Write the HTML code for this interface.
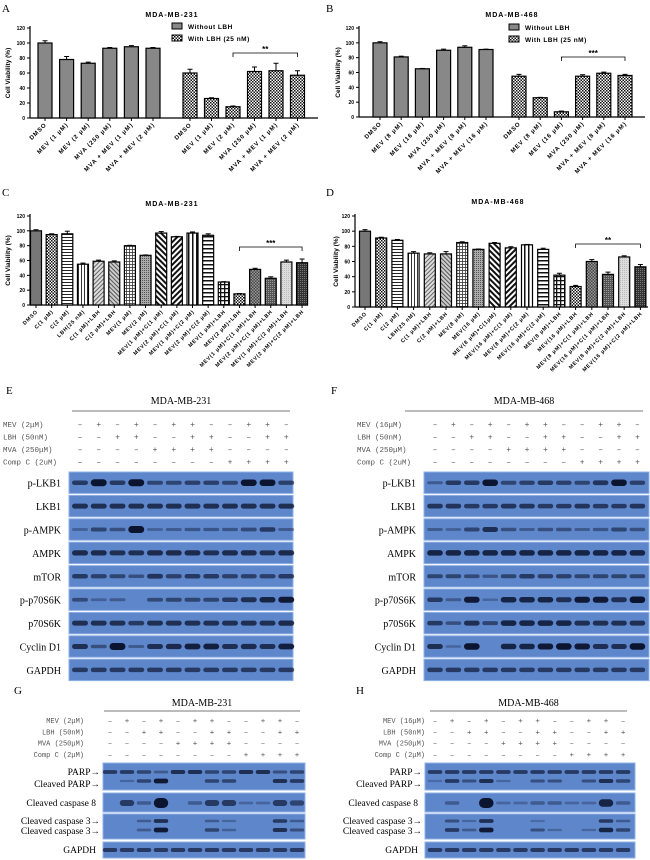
<!DOCTYPE html>
<html><head><meta charset="utf-8"><style>
html,body{margin:0;padding:0;background:#fff;}
svg{display:block;}
.ax{font-family:"Liberation Sans",sans-serif;font-weight:bold;}
.serif{font-family:"Liberation Serif",serif;}
.mono{font-family:"Liberation Mono",monospace;fill:#555;}
</style></head><body>
<svg id="fig" width="650" height="860" viewBox="0 0 650 860" xmlns="http://www.w3.org/2000/svg">
<defs>
<pattern id="p-check" width="3" height="3" patternUnits="userSpaceOnUse"><rect width="3" height="3" fill="#fff"/><rect width="1.5" height="1.5" fill="#111"/><rect x="1.5" y="1.5" width="1.5" height="1.5" fill="#111"/></pattern>
<pattern id="p-hl" width="3" height="3" patternUnits="userSpaceOnUse"><rect width="3" height="3" fill="#fff"/><rect width="3" height="1" fill="#222"/></pattern>
<pattern id="p-vl" width="3" height="3" patternUnits="userSpaceOnUse"><rect width="3" height="3" fill="#fff"/><rect width="1" height="3" fill="#333"/></pattern>
<pattern id="p-d1" width="3" height="3" patternUnits="userSpaceOnUse" patternTransform="rotate(45)"><rect width="3" height="3" fill="#ddd"/><rect width="1" height="3" fill="#666"/></pattern>
<pattern id="p-d2" width="3" height="3" patternUnits="userSpaceOnUse" patternTransform="rotate(-45)"><rect width="3" height="3" fill="#ccc"/><rect width="1" height="3" fill="#555"/></pattern>
<pattern id="p-grid" width="3" height="3" patternUnits="userSpaceOnUse"><rect width="3" height="3" fill="#fff"/><rect width="3" height="0.8" fill="#333"/><rect width="0.8" height="3" fill="#333"/></pattern>
<pattern id="p-dot" width="2" height="2" patternUnits="userSpaceOnUse"><rect width="2" height="2" fill="#aaa"/><rect width="1" height="1" fill="#555"/></pattern>
<pattern id="p-bd1" width="4" height="4" patternUnits="userSpaceOnUse" patternTransform="rotate(45)"><rect width="4" height="4" fill="#fff"/><rect width="2" height="4" fill="#111"/></pattern>
<pattern id="p-bd2" width="4" height="4" patternUnits="userSpaceOnUse" patternTransform="rotate(-45)"><rect width="4" height="4" fill="#fff"/><rect width="2" height="4" fill="#111"/></pattern>
<pattern id="p-bv" width="4" height="4" patternUnits="userSpaceOnUse"><rect width="4" height="4" fill="#fff"/><rect width="1.5" height="4" fill="#111"/></pattern>
<pattern id="p-bh" width="4" height="4" patternUnits="userSpaceOnUse"><rect width="4" height="4" fill="#fff"/><rect width="4" height="1.5" fill="#111"/></pattern>
<pattern id="p-bgrid" width="4" height="4" patternUnits="userSpaceOnUse"><rect width="4" height="4" fill="#fff"/><rect width="4" height="1.3" fill="#111"/><rect width="1.3" height="4" fill="#111"/></pattern>
<pattern id="p-dcheck" width="3" height="3" patternUnits="userSpaceOnUse"><rect width="3" height="3" fill="#444"/><rect width="1.5" height="1.5" fill="#999"/><rect x="1.5" y="1.5" width="1.5" height="1.5" fill="#999"/></pattern>
<pattern id="p-ddot" width="2" height="2" patternUnits="userSpaceOnUse"><rect width="2" height="2" fill="#555"/><rect width="1" height="1" fill="#999"/></pattern>
<pattern id="p-light" width="2" height="2" patternUnits="userSpaceOnUse"><rect width="2" height="2" fill="#ddd"/><rect width="1" height="1" fill="#bbb"/></pattern>
<pattern id="p-dark" width="2" height="2" patternUnits="userSpaceOnUse"><rect width="2" height="2" fill="#333"/><rect width="1" height="1" fill="#777"/></pattern>
</defs>
</svg>
<script>
// ---------- Chart data ----------
const yTicks = [0,20,40,60,80,100,120];
const catsA = ["DMSO","MEV (1 μM)","MEV (2 μM)","MVA (250 μM)","MVA + MEV (1 μM)","MVA + MEV (2 μM)"];
const valsA1 = [100,78,73,93,95,93];
const errA1 = [3,4,1.5,1,1.5,1];
const valsA2 = [60,26,15,62,63,57];
const errA2 = [5,1,1,6,10,6];
const catsB = ["DMSO","MEV (8 μM)","MEV (16 μM)","MVA (250 μM)","MVA + MEV (8 μM)","MVA + MEV (16 μM)"];
const valsB1 = [100,81,65,90,94,91];
const errB1 = [1.5,1,0.5,1.5,2,0.5];
const valsB2 = [55,26,7,55,59,56];
const errB2 = [2.5,0.5,1,2,1.5,1.5];
const catsC = ["DMSO","C(1 μM)","C(2 μM)","LBH(25 nM)","C(1 μM)+LBH","C(2 μM)+LBH","MEV(1 μM)","MEV(2 μM)","MEV(1 μM)+C(1 μM)","MEV(2 μM)+C(1 μM)","MEV(1 μM)+C(2 μM)","MEV(2 μM)+C(2 μM)","MEV(1 μM)+LBH","MEV(2 μM)+LBH","MEV(1 μM)+C(1 μM)+LBH","MEV(2 μM)+C(1 μM)+LBH","MEV(1 μM)+C(2 μM)+LBH","MEV(2 μM)+C(2 μM)+LBH"];
const valsC = [100,95,96,55,59,58,80,67,97,92,97,94,31,15,48,36,58,57];
const errC = [1.5,1,3.5,1.5,1.5,1.5,0.5,0.5,2,0.5,1.5,2,0.5,0.5,1.5,2,2.5,5];
const catsD = ["DMSO","C(1 μM)","C(2 μM)","LBH(25 nM)","C(1 μM)+LBH","C(2 μM)+LBH","MEV(8 μM)","MEV(16 μM)","MEV(8 μM)+C(1μM)","MEV(16 μM)+C(1 μM)","MEV(8 μM)+C(2 μM)","MEV(16 μM)+C(2 μM)","MEV(8 μM)+LBH","MEV(16 μM)+LBH","MEV(8 μM)+C(1 μM)+LBH","MEV(16 μM)+C(1 μM)+LBH","MEV(8 μM)+C(2 μM)+LBH","MEV(16 μM)+C(2 μM)+LBH"];
const valsD = [100,91,88,71,70,70,85,76,84,78,82,76,42,27,60,43,66,53];
const errD = [2,1,1,2,1.5,3,1,0.5,1,1.5,0.5,1.5,2.5,1.5,2.5,3,1.5,3];
const fillsCD = ["#777","url(#p-check)","url(#p-hl)","url(#p-vl)","url(#p-d1)","url(#p-d2)","url(#p-grid)","url(#p-dot)","url(#p-bd2)","url(#p-bd1)","url(#p-bv)","url(#p-bh)","url(#p-bgrid)","url(#p-check)","url(#p-dcheck)","url(#p-ddot)","url(#p-light)","url(#p-dark)"];

// ---------- Blot data ----------
const laneSigns = {
  mev:["-","+","-","+","-","+","+","-","-","+","+","-"],
  lbh:["-","-","+","+","-","-","+","+","-","-","+","+"],
  mva:["-","-","-","-","+","+","+","+","-","-","-","-"],
  cc: ["-","-","-","-","-","-","-","-","+","+","+","+"]
};
const blotE = [
 ["p-LKB1",[.5,1,.5,1,.4,.4,.45,.45,.4,.9,.9,.45]],
 ["LKB1",[.6,.6,.6,.6,.6,.6,.6,.6,.6,.6,.6,.6]],
 ["p-AMPK",[.15,.4,.3,1,.15,.2,.25,.25,.25,.35,.5,.2]],
 ["AMPK",[.65,.65,.6,.6,.65,.65,.65,.6,.65,.65,.6,.65]],
 ["mTOR",[.5,.45,.4,.3,.55,.45,.5,.5,.45,.45,.45,.5]],
 ["p-p70S6K",[.35,.15,.2,0,.35,.4,.4,.4,.5,.6,.7,.8]],
 ["p70S6K",[.6,.6,.6,.5,.6,.6,.6,.6,.6,.6,.6,.65]],
 ["Cyclin D1",[.6,.3,1,.2,.6,.65,.75,.75,.6,.65,.6,.75]],
 ["GAPDH",[.5,.5,.5,.5,.5,.5,.5,.5,.5,.5,.5,.5]]
];
const blotF = [
 ["p-LKB1",[.2,.5,.5,.9,.4,.45,.5,.45,.4,.55,.9,.45]],
 ["LKB1",[.55,.55,.5,.5,.55,.55,.5,.5,.55,.5,.5,.55]],
 ["p-AMPK",[.2,.15,.4,.6,.3,.2,.3,.3,.2,.25,.4,.3]],
 ["AMPK",[.7,.7,.7,.7,.7,.7,.7,.7,.7,.7,.7,.7]],
 ["mTOR",[.4,.4,.35,.25,.4,.5,.45,.45,.4,.4,.4,.4]],
 ["p-p70S6K",[.5,.2,.8,.1,.7,.7,.7,.6,.8,.8,.6,.9]],
 ["p70S6K",[.5,.3,.6,.4,.7,.7,.7,.7,.6,.6,.6,.6]],
 ["Cyclin D1",[.6,.1,.9,0,.7,.7,.8,.9,.8,.6,.6,.9]],
 ["GAPDH",[.5,.5,.5,.5,.5,.5,.5,.5,.5,.5,.5,.5]]
];
const parpG = [.5,.5,.4,.2,.6,.6,.4,.4,.6,.6,.3,.4];
const cparpG = [0,.1,.4,.8,0,0,.4,.4,0,0,.6,.5];
const casp8G = [0,.5,.2,1,0,.2,.5,.5,.1,.1,.5,.4];
const casp3aG = [0,0,.2,.6,0,0,.2,.1,0,0,.5,.2];
const casp3bG = [0,0,.2,.8,0,0,.4,.15,0,0,.6,.3];
const gapdhG = [.5,.5,.5,.5,.5,.5,.5,.5,.5,.5,.5,.5];
const parpH = [.5,.5,.5,.5,.5,.5,.5,.5,.5,.5,.5,.5];
const cparpH = [.05,.5,.3,.6,.1,0,.3,.3,0,.3,.6,.4];
const casp8H = [0,.2,0,1,.1,.1,.2,.2,.1,.1,.7,.2];
const casp3aH = [0,.3,.1,.6,0,0,.05,0,0,0,.5,.2];
const casp3bH = [0,.5,.2,.8,0,0,.3,.1,0,.1,.7,.4];
const gapdhH = [.5,.5,.5,.5,.5,.5,.5,.5,.5,.5,.5,.5];

// ---------- helpers ----------
const svg = document.getElementById('fig');
const NS = "http://www.w3.org/2000/svg";
function mk(tag, attrs, parent){
  const e = document.createElementNS(NS, tag);
  for (const k in attrs) e.setAttribute(k, attrs[k]);
  (parent||svg).appendChild(e);
  return e;
}
function txt(x,y,s,size,cls,anchor,parent){
  const t = mk('text',{x:x,y:y,'font-size':size,'text-anchor':anchor||'start'},parent);
  if (cls) t.setAttribute('class',cls);
  t.textContent = s;
  return t;
}
function panelLetter(x,y,s){
  const t = txt(x,y,s,11,'serif','start');
  
  
}

function makeChart(o){
  const g = mk('g',{});
  
  
  const yS = v => o.y0 - (v/120)*(o.y0-o.yTop);
  const ti = txt(o.titleX,o.titleY,o.title,7,'ax','middle',g);
  ti.setAttribute('letter-spacing','1');
  
  
  const ya = mk('line',{x1:o.ax,y1:o.yTop-2,x2:o.ax,y2:o.y0,stroke:'#000','stroke-width':1.2},g);
  
  
  yTicks.forEach(v=>{
    mk('line',{x1:o.ax-3,y1:yS(v),x2:o.ax,y2:yS(v),stroke:'#000','stroke-width':1},g);
    const tl = txt(o.ax-5,yS(v)+2,String(v),5,'ax','end',g);
    
    
  });
  const yt = txt(0,0,'Cell Viability (%)',6.5,'ax','middle',g);
  yt.setAttribute('transform','translate('+o.yTitleX+','+((o.y0+o.yTop)/2)+') rotate(-90)');
  
  
  const xa = mk('line',{x1:o.ax,y1:o.y0,x2:o.axEnd,y2:o.y0,stroke:'#000','stroke-width':1.2},g);
  
  
  const centers = [];
  o.groups.forEach((gr,gi)=>{
    gr.vals.forEach((v,i)=>{
      const cx = gr.first + i*gr.step;
      centers.push(cx);
      const top = yS(v);
      mk('line',{x1:cx,y1:yS(v+gr.err[i]),x2:cx,y2:top,stroke:'#000','stroke-width':1},g);
      mk('line',{x1:cx-2.5,y1:yS(v+gr.err[i]),x2:cx+2.5,y2:yS(v+gr.err[i]),stroke:'#000','stroke-width':1},g);
      const b = mk('rect',{x:cx-o.bw/2,y:top,width:o.bw,height:o.y0-top,fill:gr.fills? gr.fills[i]:gr.fill,stroke:'#000','stroke-width':1.2},g);
      
      
      mk('line',{x1:cx,y1:o.y0,x2:cx,y2:o.y0+3,stroke:'#000','stroke-width':1},g);
      const xl = txt(0,0,gr.cats[i],o.xls,'ax','end',g);
      xl.setAttribute('transform','translate('+(cx+2)+','+(o.y0+7)+') rotate(-45)');
      xl.setAttribute('letter-spacing',o.xlsp);
      
      
    });
  });
  const x1 = centers[o.br[0]], x2 = centers[o.br[1]];
  const bk = mk('path',{d:'M'+x1+' '+(o.brY+4)+'V'+o.brY+'H'+x2+'V'+(o.brY+4),fill:'none',stroke:'#000','stroke-width':0.8},g);
  
  
  const st = txt((x1+x2)/2,o.brY-1,o.stars,8,'ax','middle',g);
  
  
  if (o.legX){
    [['Without LBH','#888'],['With LBH (25 nM)','url(#p-check)']].forEach((l,i)=>{
      const lg = mk('g',{},g);
      
      
      mk('rect',{x:o.legX,y:o.legY+i*12,width:10,height:6,fill:l[1],stroke:'#000','stroke-width':1},lg);
      const lt = txt(o.legX+16,o.legY+i*12+6,l[0],6.5,'ax','start',lg);
      lt.setAttribute('letter-spacing','0.5');
    });
  }
}

makeChart({name:'chart-a',title:'MDA-MB-231',titleX:172,titleY:17,ax:30,axEnd:318,y0:118,yTop:28,yTitleX:10,bw:14,xls:6,xlsp:0.9,
  groups:[{cats:catsA,vals:valsA1,err:errA1,first:45,step:21.6,fill:'#888'},{cats:catsA,vals:valsA2,err:errA2,first:190,step:21.5,fill:'url(#p-check)'}],
  br:[8,11],brY:53,stars:'**',legX:172,legY:23});
makeChart({name:'chart-b',title:'MDA-MB-468',titleX:512,titleY:17,ax:359,axEnd:645,y0:117,yTop:28,yTitleX:340,bw:14,xls:6,xlsp:0.9,
  groups:[{cats:catsB,vals:valsB1,err:errB1,first:380,step:21.2,fill:'#888'},{cats:catsB,vals:valsB2,err:errB2,first:519,step:21.2,fill:'url(#p-check)'}],
  br:[8,11],brY:57,stars:'***',legX:509,legY:24});
makeChart({name:'chart-c',title:'MDA-MB-231',titleX:172,titleY:206,ax:30,axEnd:308,y0:305,yTop:216,yTitleX:10,bw:11,xls:5.3,xlsp:0.7,
  groups:[{cats:catsC,vals:valsC,err:errC,first:36,step:15.65,fills:fillsCD}],
  br:[13,17],brY:247,stars:'***'});
makeChart({name:'chart-d',title:'MDA-MB-468',titleX:498,titleY:204,ax:355,axEnd:648,y0:307,yTop:216,yTitleX:338,bw:11,xls:5.3,xlsp:0.7,
  groups:[{cats:catsD,vals:valsD,err:errD,first:365,step:16.2,fills:fillsCD}],
  br:[13,17],brY:244,stars:'**'});

panelLetter(2,12,'A'); panelLetter(326,12,'B'); panelLetter(2,196,'C'); panelLetter(326,196,'D');
panelLetter(6,394,'E'); panelLetter(331,394,'F'); panelLetter(14,694,'G'); panelLetter(356,694,'H');

function header(o){
  const g = mk('g',{});
  
  
  txt((o.lx1+o.lx2)/2,o.ty,o.title,10,'serif','middle',g);
  mk('line',{x1:o.lx1,y1:o.ly,x2:o.lx2,y2:o.ly,stroke:'#777','stroke-width':1},g);
  const rows = [['mev',o.labels[0]],['lbh',o.labels[1]],['mva',o.labels[2]],['cc',o.labels[3]]];
  rows.forEach((r,ri)=>{
    const y = o.ry0 + ri*o.rs;
    const lt = txt(o.labX,y,r[1],o.fs,'mono',o.labAnchor||'start',g);
    
    
    laneSigns[r[0]].forEach((s,i)=>{
      txt(o.lane0+i*o.ls,y,s==='+'?'+':'–',o.fs+0.5,'mono','middle',g);
    });
  });
}
function band(g,cx,cy,w,v,extra){
  if (v<=0.02) return;
  const h = 2 + v*5*(extra||1);
  mk('rect',{x:cx-w/2,y:cy-h/2,width:w,height:h,rx:h/2,fill:'#0c1530',opacity:Math.min(1,0.2+v*0.95)},g);
}
function blotBox(g,x,y,w,h){
  mk('rect',{x:x,y:y,width:w,height:h,fill:'#5e86cb',stroke:'#8fb0e6','stroke-width':1},g);
}
function blotStack(o,data){
  const g = mk('g',{});
  
  
  data.forEach((row,ri)=>{
    const y = o.y0 + ri*o.rh;
    const rg = mk('g',{},g);
    
    
    blotBox(rg,o.x,y,o.w,o.rh-2);
    txt(o.labR,y+o.rh/2+3,row[0],10,'serif','end',rg);
    row[1].forEach((v,i)=>band(rg,o.lane0+i*o.ls,y+(o.rh-2)/2,o.ls*0.85,v));
  });
}
header({name:'blot-e-header',title:'MDA-MB-231',ty:404,lx1:72,lx2:290,ly:411,labX:3,labels:['MEV (2μM)','LBH (50nM)','MVA (250μM)','Comp C (2uM)'],ry0:427,rs:12.5,lane0:80,ls:18.75,fs:7.5});
blotStack({name:'blot-e',x:69,y0:472,w:224,rh:23.4,labR:61,lane0:80,ls:18.75},blotE);
header({name:'blot-f-header',title:'MDA-MB-468',ty:404,lx1:405,lx2:643,ly:411,labX:357,labels:['MEV (16μM)','LBH (50nM)','MVA (250μM)','Comp C (2uM)'],ry0:427,rs:12.5,lane0:435,ls:18.4,fs:7.5});
blotStack({name:'blot-f',x:424,y0:472,w:225,rh:23.4,labR:416,lane0:435,ls:18.4},blotF);

function apopBlot(o){
  const g = mk('g',{});
  
  
  const L = i => o.lane0 + i*o.ls, bw = o.ls*0.85;
  let pg = mk('g',{},g);  
  blotBox(pg,o.x,763,o.w,27);
  txt(o.labR,775,'PARP→',9.5,'serif','end',pg);
  txt(o.labR,787,'Cleaved PARP→',9.5,'serif','end',pg);
  o.parp.forEach((v,i)=>band(pg,L(i),772,bw,v,0.7));
  o.cparp.forEach((v,i)=>band(pg,L(i),781,bw,v,0.7));
  let c8 = mk('g',{},g);  
  blotBox(c8,o.x,793,o.w,19);
  txt(o.labR-4,806,'Cleaved caspase 8',9.5,'serif','end',c8);
  o.c8.forEach((v,i)=>band(c8,L(i),803,bw,v,1.6));
  let c3 = mk('g',{},g);  
  blotBox(c3,o.x,814,o.w,25);
  txt(o.labR,824,'Cleaved caspase 3→',9.5,'serif','end',c3);
  txt(o.labR,834,'Cleaved caspase 3→',9.5,'serif','end',c3);
  o.c3a.forEach((v,i)=>band(c3,L(i),821,bw,v,0.6));
  o.c3b.forEach((v,i)=>band(c3,L(i),830,bw,v,0.7));
  let gp = mk('g',{},g);  
  blotBox(gp,o.x,842,o.w,16);
  txt(o.labR-4,853,'GAPDH',9.5,'serif','end',gp);
  o.gapdh.forEach((v,i)=>band(gp,L(i),850,bw,v,0.8));
}
header({name:'blot-g-header',title:'MDA-MB-231',ty:706,lx1:104,lx2:300,ly:711,labX:84,labAnchor:'end',labels:['MEV (2μM)','LBH (50nM)','MVA (250μM)','Comp C (2μM)'],ry0:723,rs:11.3,lane0:110,ls:17.0,fs:7});
apopBlot({name:'blot-g',x:103,w:202,labR:100,lane0:110,ls:17.0,parp:parpG,cparp:cparpG,c8:casp8G,c3a:casp3aG,c3b:casp3bG,gapdh:gapdhG});
header({name:'blot-h-header',title:'MDA-MB-468',ty:706,lx1:430,lx2:627,ly:711,labX:425,labAnchor:'end',labels:['MEV (16μM)','LBH (50nM)','MVA (250μM)','Comp C (2μM)'],ry0:723,rs:11.3,lane0:435,ls:17.1,fs:7});
apopBlot({name:'blot-h',x:425,w:210,labR:422,lane0:435,ls:17.1,parp:parpH,cparp:cparpH,c8:casp8H,c3a:casp3aH,c3b:casp3bH,gapdh:gapdhH});
</script>
</body></html>
